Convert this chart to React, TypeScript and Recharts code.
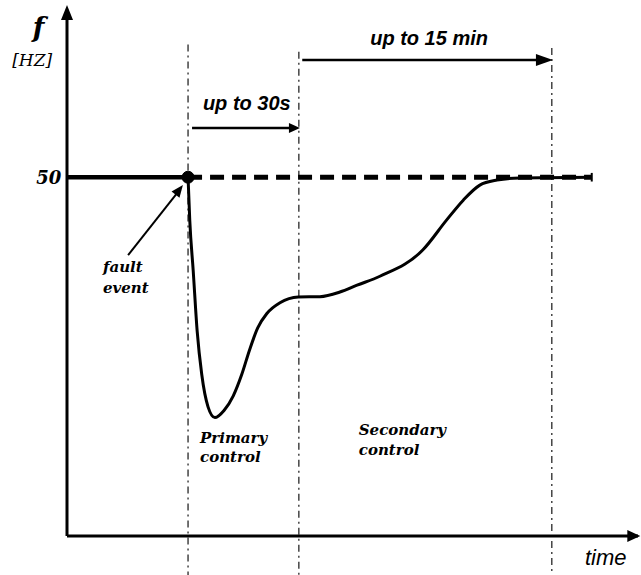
import { LineChart, Line, XAxis, YAxis, ReferenceLine, ReferenceDot } from 'recharts';

// frequency response after a fault (time in arbitrary units, frequency in Hz)
const times = [21.2, 21.5, 22.1, 22.8, 23.6, 24.7, 25.9, 27.5, 29.1, 30.6, 32.0, 33.4, 35.0, 37.3, 40.5, 44.3, 47.8, 50.8, 54.8, 62.3, 66.5, 69.4, 72.3, 75.3, 79.3, 91.9];
const freqs = [50.0, 49.88, 49.74, 49.57, 49.45, 49.36, 49.33, 49.35, 49.39, 49.45, 49.52, 49.58, 49.62, 49.65, 49.666, 49.667, 49.68, 49.699, 49.724, 49.797, 49.881, 49.936, 49.978, 49.992, 49.998, 50.0];

const nominalFreq = 50;
const faultTime = 21.2;
const endTime = 91.9;
const boundaryTimes = [21.2, 40.6, 84.9];
const boundaryTops = [50.37, 50.35, 50.36];

const T_MIN = 0;
const T_MAX = 100;
const F_MIN = 49;
const F_MAX = 50.48;
const F_BELOW = 48.89;

const serif = '"DejaVu Serif", "Liberation Serif", serif';
const sans = '"Liberation Sans", Arial, sans-serif';

const labels = [
  { text: 'f', t: -6.0, f: 50.39, font: serif, size: 27, weight: 'bold', anchor: 'start' },
  { text: '[HZ]', t: -9.6, f: 50.31, font: serif, size: 17, weight: 'normal', anchor: 'start' },
  { text: '50', t: -1.0, f: 49.981, font: serif, size: 18, weight: 'bold', anchor: 'end' },
  { text: 'fault', t: 6.3, f: 49.736, font: serif, size: 15, weight: 'bold', anchor: 'start' },
  { text: 'event', t: 6.3, f: 49.677, font: serif, size: 15, weight: 'bold', anchor: 'start' },
  { text: 'Primary', t: 23.3, f: 49.259, font: serif, size: 15, weight: 'bold', anchor: 'start' },
  { text: 'control', t: 23.3, f: 49.206, font: serif, size: 15, weight: 'bold', anchor: 'start' },
  { text: 'Secondary', t: 51.1, f: 49.281, font: serif, size: 15, weight: 'bold', anchor: 'start' },
  { text: 'control', t: 51.1, f: 49.226, font: serif, size: 15, weight: 'bold', anchor: 'start' },
  { text: 'up to 30s', t: 23.8, f: 50.187, font: sans, size: 20, weight: 'bold', anchor: 'start' },
  { text: 'up to 15 min', t: 53.1, f: 50.369, font: sans, size: 20, weight: 'bold', anchor: 'start' },
  { text: 'time', t: 90.7, f: 48.919, font: sans, size: 22, weight: 'normal', anchor: 'start' },
];

// interval arrows: tail t, head t, f
const spanArrows = [
  { from: 21.9, to: 40.8, f: 50.137, len: 11, half: 5 },
  { from: 41.2, to: 85.1, f: 50.327, len: 17, half: 6 },
];

const data = times.map((t, i) => ({ t, f: freqs[i] }));

const arrowHead = (angle: number, len: number, half: number) => (props: any) => {
  const { cx, cy } = props;
  return (
    <polygon
      points={`0,0 ${-len},${-half} ${-len},${half}`}
      transform={`translate(${cx},${cy}) rotate(${angle})`}
      fill="#000"
    />
  );
};

const textShape = (l: any) => (props: any) => {
  const { cx, cy } = props;
  return (
    <text
      x={cx}
      y={cy}
      textAnchor={l.anchor}
      fontFamily={l.font}
      fontSize={l.size}
      fontWeight={l.weight}
      fontStyle="italic"
      fill="#000"
    >
      {l.text}
    </text>
  );
};

export default function App() {
  return (
    <div style={{ position: 'absolute', left: 0, top: 0, background: '#fff' }}>
      <LineChart width={641} height={575} data={data} margin={{ top: 5, right: 3, bottom: 39, left: 67 }}>
        <XAxis type="number" dataKey="t" domain={[T_MIN, T_MAX]} allowDataOverflow hide />
        <YAxis type="number" domain={[F_MIN, F_MAX]} allowDataOverflow hide />

        {/* phase boundaries */}
        {boundaryTimes.map((bt, i) => (
          <ReferenceLine
            key={'b' + i}
            segment={[{ x: bt, y: boundaryTops[i] }, { x: bt, y: F_BELOW }]}
            stroke="#444"
            strokeWidth={1.5}
            strokeDasharray="7 4 2 4"
            ifOverflow="visible"
          />
        ))}

        {/* axes */}
        <ReferenceLine segment={[{ x: T_MIN, y: F_MIN }, { x: T_MIN, y: F_MAX - 0.02 }]} stroke="#000" strokeWidth={3} ifOverflow="visible" />
        <ReferenceLine segment={[{ x: T_MIN, y: F_MIN }, { x: T_MAX, y: F_MIN }]} stroke="#000" strokeWidth={3} ifOverflow="visible" />
        <ReferenceDot x={T_MIN} y={F_MAX} r={0} ifOverflow="visible" shape={arrowHead(-90, 15, 6)} />
        <ReferenceDot x={100.4} y={F_MIN} r={0} ifOverflow="visible" shape={arrowHead(0, 13, 6)} />

        {/* nominal frequency */}
        <ReferenceLine segment={[{ x: T_MIN, y: nominalFreq }, { x: faultTime, y: nominalFreq }]} stroke="#000" strokeWidth={4.5} ifOverflow="visible" />
        <ReferenceLine segment={[{ x: faultTime, y: nominalFreq }, { x: endTime, y: nominalFreq }]} stroke="#000" strokeWidth={5} strokeDasharray="14 8" ifOverflow="visible" />
        <ReferenceLine segment={[{ x: endTime, y: nominalFreq - 0.012 }, { x: endTime, y: nominalFreq + 0.012 }]} stroke="#000" strokeWidth={2} ifOverflow="visible" />

        <Line type="monotone" dataKey="f" stroke="#000" strokeWidth={3} dot={false} isAnimationActive={false} />

        <ReferenceDot x={faultTime} y={nominalFreq} r={6} fill="#000" stroke="#000" ifOverflow="visible" />

        {/* fault event pointer */}
        <ReferenceLine segment={[{ x: 10.7, y: 49.783 }, { x: 19.8, y: 49.966 }]} stroke="#000" strokeWidth={2} ifOverflow="visible" />
        <ReferenceDot x={20.3} y={49.978} r={0} ifOverflow="visible" shape={arrowHead(-52, 12, 5)} />

        {/* interval arrows */}
        {spanArrows.map((a, i) => (
          <ReferenceLine
            key={'a' + i}
            segment={[{ x: a.from, y: a.f }, { x: a.to - 1, y: a.f }]}
            stroke="#000"
            strokeWidth={2.5}
            ifOverflow="visible"
          />
        ))}
        {spanArrows.map((a, i) => (
          <ReferenceDot key={'ah' + i} x={a.to} y={a.f} r={0} ifOverflow="visible" shape={arrowHead(0, a.len, a.half)} />
        ))}

        {labels.map((l, i) => (
          <ReferenceDot key={'l' + i} x={l.t} y={l.f} r={0} ifOverflow="visible" shape={textShape(l)} />
        ))}
      </LineChart>
    </div>
  );
}
